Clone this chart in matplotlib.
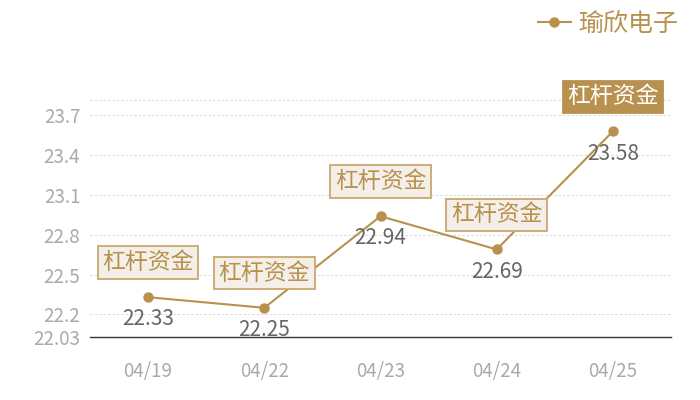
import matplotlib
matplotlib.use("Agg")
import matplotlib.pyplot as plt

plt.rcParams['font.family'] = ['Noto Sans CJK SC', 'DejaVu Sans']

# data
dates = ["04/19", "04/22", "04/23", "04/24", "04/25"]
prices = [22.33, 22.25, 22.94, 22.69, 23.58]
note = "杠杆资金"
series_name = "瑜欣电子"
yticks = [22.03, 22.2, 22.5, 22.8, 23.1, 23.4, 23.7]
ymin, ymax = 22.03, 23.816

gold = "#b8914f"

fig = plt.figure(figsize=(7, 4), dpi=100)
ax = fig.add_axes([90 / 700, 63 / 400, 581 / 700, 237 / 400])

x = list(range(len(dates)))
ax.plot(x, prices, color=gold, lw=1.5, marker="o", ms=6.5, mfc=gold, mec=gold, zorder=3,
        label=series_name)

ax.set_xlim(-0.5, len(dates) - 0.5)
ax.set_ylim(ymin, ymax)
ax.set_yticks(yticks)
ax.set_yticklabels([f"{v:g}" for v in yticks])
ax.set_xticks(x)
ax.set_xticklabels(dates)
ax.tick_params(axis="both", length=0, colors="#aaaaaa", labelsize=13.5)
ax.tick_params(axis="x", pad=17)
ax.tick_params(axis="y", pad=7)

for t in yticks[1:]:
    ax.axhline(t, color="#d8d8d8", lw=0.7, ls=(0, (2.5, 2)), zorder=1)
ax.axhline(ymax, color="#d8d8d8", lw=0.7, ls=(0, (2.5, 2)), zorder=1)

for s in ["top", "right", "left"]:
    ax.spines[s].set_visible(False)
ax.spines["bottom"].set_color("#333333")
ax.spines["bottom"].set_linewidth(1)

for i, v in enumerate(prices):
    ax.annotate(f"{v:.2f}", (i, v), xytext=(0, -16), textcoords="offset points",
                ha="center", va="center", fontsize=15, color="#666666")
    last = i == len(prices) - 1
    ax.annotate(note, (i, v), xytext=(0, 25), textcoords="offset points",
                ha="center", va="center", fontsize=16.5,
                color="white" if last else gold,
                bbox=dict(boxstyle="square,pad=0.2",
                          fc=gold if last else "#f4efe8",
                          ec=gold if last else "#c9a770", lw=1.3))

leg = fig.legend(loc="upper right", bbox_to_anchor=(0.99, 1.01), frameon=False,
                 fontsize=18, handlelength=1.3, handletextpad=0.3, borderaxespad=0.2)
for t in leg.get_texts():
    t.set_color(gold)

fig.savefig("out.png", dpi=100)
